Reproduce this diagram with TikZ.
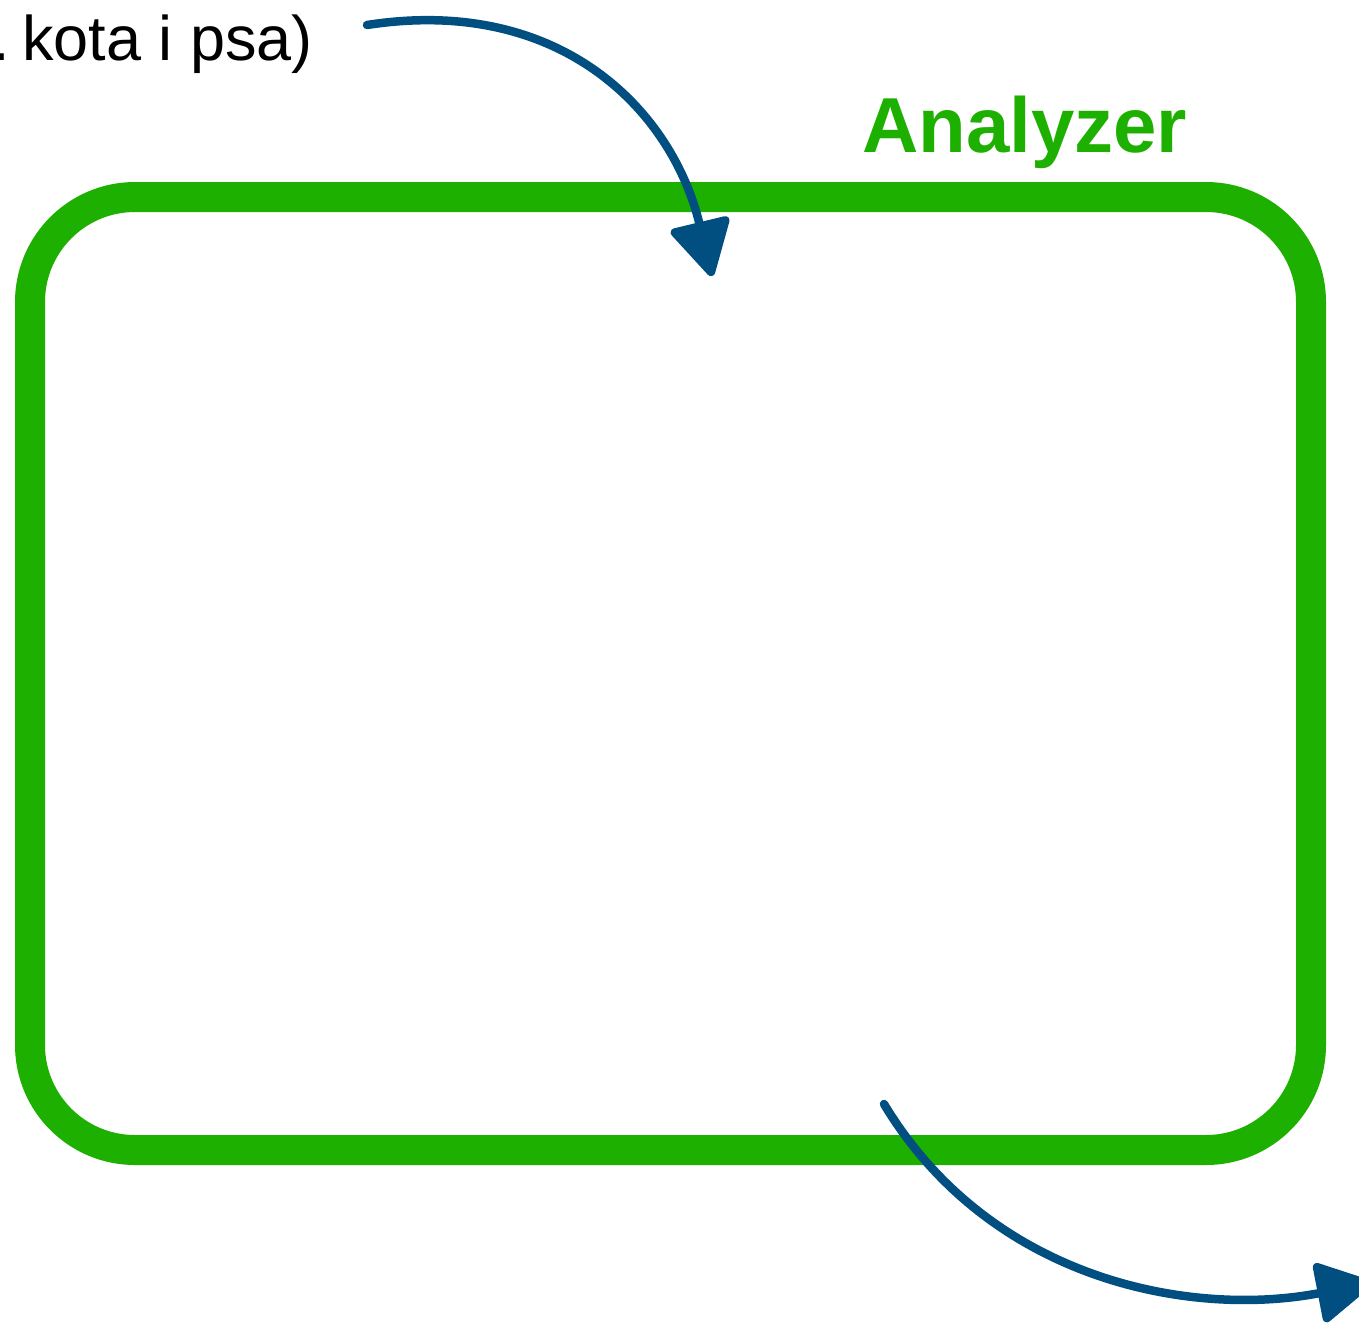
\documentclass[tikz,border=0pt]{standalone}
\usepackage{fontspec}
\setmainfont{Liberation Sans}
\usetikzlibrary{arrows.meta}
\definecolor{boxgreen}{HTML}{1EB000}
\definecolor{arrowblue}{HTML}{004F80}
\tikzset{
  frame/.style={draw=boxgreen, line width=30pt, rounded corners=105pt, line join=round},
  flow/.style={draw=arrowblue, line width=8.5pt, line cap=round,
    -{Triangle[length=60pt, width=64pt, round]}},
  caption/.style={inner sep=0pt, anchor=base east, font=\fontsize{63}{63}\selectfont},
  title/.style={inner sep=0pt, anchor=base west, text=boxgreen,
    font=\fontsize{78}{78}\selectfont\bfseries},
}
\begin{document}
\begin{tikzpicture}[x=1pt, y=-1pt]
  \useasboundingbox (0,0) rectangle (1359,1326);
  \clip (0,0) rectangle (1359,1326);
  % analyzer frame
  \draw[frame] (30,197) rectangle (1311,1150);
  % labels
  \node[caption] (input) at (313,60) {.\kern-5pt\ kota i psa)};
  \node[title] (name) at (862,152) {Analyzer};
  % connector end points
  \coordinate (inStart) at (367,25);
  \coordinate (inEnd) at (712,276);
  \coordinate (outStart) at (884,1104);
  \coordinate (outEnd) at (1372,1283);
  % arrows
  \draw[flow] (inStart) .. controls (560,-5) and (672,110) .. (inEnd);
  \draw[flow] (outStart) .. controls (990,1280) and (1190,1318) .. (outEnd);
\end{tikzpicture}
\end{document}
